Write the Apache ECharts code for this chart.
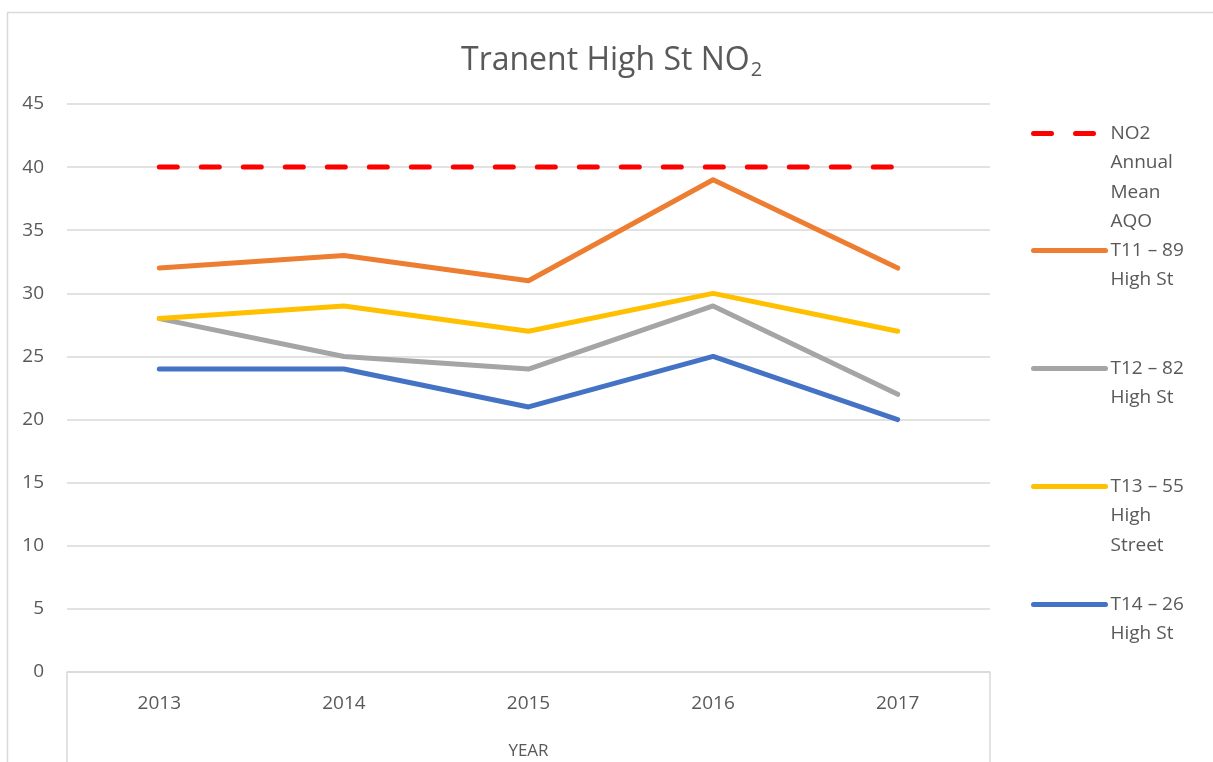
<!DOCTYPE html>
<html>
<head>
<meta charset="utf-8">
<script src="https://cdn.jsdelivr.net/npm/echarts@6/dist/echarts.min.js"></script>
<style>
  html, body { margin: 0; padding: 0; background: #fff; }
  #main { width: 1213px; height: 762px; }
</style>
</head>
<body>
<div id="main"></div>
<script>
// data
const years = ['2013', '2014', '2015', '2016', '2017'];
const aqo = [40, 40, 40, 40, 40];
const t11 = [32, 33, 31, 39, 32];
const t12 = [28, 25, 24, 29, 22];
const t13 = [28, 29, 27, 30, 27];
const t14 = [24, 24, 21, 25, 20];
const seriesNames = ['NO2 Annual Mean AQO', 'T11 – 89 High St', 'T12 – 82 High St', 'T13 – 55 High Street', 'T14 – 26 High St'];
const legendLabels = [
  ['NO2', 'Annual', 'Mean', 'AQO'],
  ['T11 – 89', 'High St'],
  ['T12 – 82', 'High St'],
  ['T13 – 55', 'High', 'Street'],
  ['T14 – 26', 'High St']
];
const colors = ['#FF0000', '#ED7D31', '#A5A5A5', '#FFC000', '#4472C4'];

const font = '"Open Sans", sans-serif';
const grey = '#595959';
const lineH = 29.5;
// legend icon centres (y) down the right side
const legendY = [133, 250, 368, 486, 604];

let chartDom = document.getElementById('main');
let myChart = echarts.init(chartDom);

// the legend centres the text on the icon, so pad with empty lines above
// to put the first line level with the icon
let legends = seriesNames.map((name, i) => {
  let lines = legendLabels[i];
  let n = lines.length;
  let text = new Array(n - 1).fill('').concat(lines).join('\n');
  return {
    data: [name],
    orient: 'vertical',
    left: 1031,
    top: legendY[i] - (2 * n - 1) * lineH / 2 + 0.5,
    padding: 0,
    itemWidth: 72,
    itemHeight: 14,
    itemStyle: { opacity: 0 },
    lineStyle: { width: 5, cap: 'round' },
    formatter: () => text,
    textStyle: {
      fontFamily: font,
      fontSize: 19,
      color: grey,
      lineHeight: lineH
    }
  };
});

let option = {
  animation: false,
  color: colors,
  title: {
    text: '{a|Tranent High St NO}{b|2}',
    left: 461,
    top: 41,
    padding: 0,
    textStyle: {
      rich: {
        a: { fontFamily: font, fontSize: 32, fontWeight: 'normal', color: grey },
        b: { fontFamily: font, fontSize: 20, fontWeight: 'normal', color: grey, padding: [19, 0, 0, 1] }
      }
    }
  },
  legend: legends,
  graphic: [{
    // chart area border (cropped on the right and bottom)
    type: 'rect',
    shape: { x: 7.5, y: 12.5, width: 1400, height: 900 },
    style: { fill: 'none', stroke: '#d9d9d9', lineWidth: 1.5 },
    silent: true
  }],
  grid: { left: 67, right: 223, top: 104, bottom: 90 },
  xAxis: [
    {
      type: 'category',
      data: years,
      boundaryGap: true,
      axisLine: { lineStyle: { color: '#d9d9d9', width: 1.5 } },
      axisTick: { show: false },
      axisLabel: { fontFamily: font, fontSize: 19, color: grey, margin: 22 }
    },
    {
      type: 'category',
      data: ['YEAR'],
      position: 'bottom',
      boundaryGap: true,
      axisLine: { show: false },
      axisTick: { show: true, length: 95, lineStyle: { color: '#d9d9d9', width: 1.5 } },
      axisLabel: { fontFamily: font, fontSize: 17, color: grey, margin: 71 }
    }
  ],
  yAxis: {
    type: 'value',
    min: 0,
    max: 45,
    interval: 5,
    axisLine: { show: false },
    axisTick: { show: false },
    axisLabel: { fontFamily: font, fontSize: 19, color: grey, margin: 23 },
    splitLine: { lineStyle: { color: '#d9d9d9', width: 1.5 } }
  },
  series: [
    { name: seriesNames[0], type: 'line', data: aqo, symbol: 'none',
      lineStyle: { width: 5, type: [18, 24], cap: 'round' } },
    { name: seriesNames[1], type: 'line', data: t11, symbol: 'none',
      lineStyle: { width: 5, cap: 'round', join: 'round' } },
    { name: seriesNames[2], type: 'line', data: t12, symbol: 'none',
      lineStyle: { width: 5, cap: 'round', join: 'round' } },
    { name: seriesNames[3], type: 'line', data: t13, symbol: 'none',
      lineStyle: { width: 5, cap: 'round', join: 'round' } },
    { name: seriesNames[4], type: 'line', data: t14, symbol: 'none',
      lineStyle: { width: 5, cap: 'round', join: 'round' } }
  ]
};
myChart.setOption(option);
</script>
</body>
</html>
